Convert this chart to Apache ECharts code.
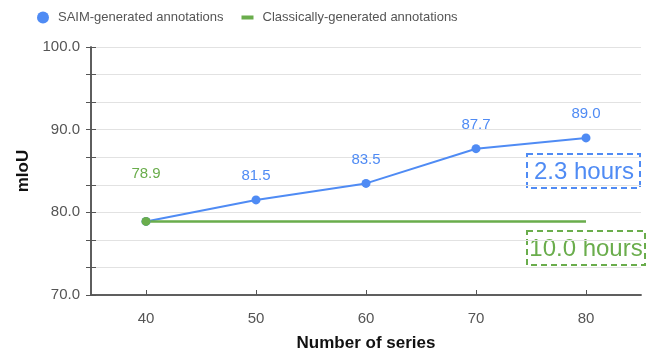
<!DOCTYPE html>
<html><head><meta charset="utf-8">
<script src="https://cdn.jsdelivr.net/npm/echarts@6/dist/echarts.min.js"></script>
<style>html,body{margin:0;padding:0;background:#fff}#c{width:657px;height:358px}</style>
</head><body><div id="c"></div>
<script>
var categories = ['40', '50', '60', '70', '80'];
var saimValues = [78.9, 81.5, 83.5, 87.7, 89.0];
var classicValues = [78.9, 78.9, 78.9, 78.9, 78.9];
var yTicks = [70, 80, 90, 100];
var blue = '#4f8bf4', green = '#6aad4c';
var FONT = '"Liberation Sans", Arial, sans-serif';
var chart = echarts.init(document.getElementById('c'));
var axisColor = '#555';
chart.setOption({
  animation: false,
  textStyle: {fontFamily: FONT},
  legend: {
    top: 6, left: 32, itemGap: 14, itemWidth: 20, itemHeight: 12,
    textStyle: {fontSize: 13, color: '#555', fontFamily: FONT},
    data: [
      {name: 'SAIM-generated annotations', icon: 'circle'},
      {name: 'Classically-generated annotations', icon: 'path://M0,0L0,0ZM20,12L20,12ZM4,4L16,4L16,8L4,8Z'}
    ]
  },
  grid: {left: 91, right: 16, top: 47, bottom: 63},
  xAxis: [{
    type: 'category', data: categories, boundaryGap: true,
    name: 'Number of series', nameLocation: 'middle', nameGap: 40,
    nameTextStyle: {fontSize: 17, fontWeight: 'bold', color: '#111', fontFamily: FONT},
    axisLine: {lineStyle: {color: axisColor, width: 1.5}},
    axisTick: {alignWithLabel: true, length: 5, lineStyle: {color: axisColor}},
    axisLabel: {fontSize: 15, color: '#555', margin: 16, fontFamily: FONT},
    splitLine: {show: false}
  }, {
    type: 'category', data: categories, boundaryGap: true, position: 'bottom', offset: 0,
    axisLine: {show: true, lineStyle: {color: axisColor, width: 1.5}},
    axisTick: {show: true, inside: true, alignWithLabel: true, length: 5, lineStyle: {color: axisColor}},
    axisLabel: {show: false}, splitLine: {show: false}
  }],
  yAxis: [{
    type: 'value', min: yTicks[0], max: yTicks[yTicks.length - 1], interval: 10,
    name: 'mIoU', nameLocation: 'middle', nameGap: 55,
    nameTextStyle: {fontSize: 17, fontWeight: 'bold', color: '#111', fontFamily: FONT},
    axisLine: {show: true, lineStyle: {color: axisColor, width: 1.5}},
    axisTick: {show: true, length: 5, lineStyle: {color: axisColor}},
    minorTick: {show: true, splitNumber: 3, length: 5, lineStyle: {color: axisColor}},
    splitLine: {show: true, lineStyle: {color: '#e2e2e2'}},
    minorSplitLine: {show: true, lineStyle: {color: '#e2e2e2'}},
    axisLabel: {fontSize: 15, color: '#555', margin: 11, fontFamily: FONT,
      formatter: function (v) { return v.toFixed(1); }}
  }, {
    type: 'value', min: yTicks[0], max: yTicks[yTicks.length - 1], interval: 10, position: 'left', offset: 0,
    axisLine: {show: true, lineStyle: {color: axisColor, width: 1.5}},
    axisTick: {show: true, inside: true, length: 5, lineStyle: {color: axisColor}},
    minorTick: {show: true, splitNumber: 3, length: 5, lineStyle: {color: axisColor}},
    splitLine: {show: false}, axisLabel: {show: false}
  }],
  series: [{
    name: 'SAIM-generated annotations', type: 'line', data: saimValues,
    symbol: 'circle', symbolSize: 9, color: blue,
    lineStyle: {width: 2, color: blue},
    label: {
      show: true, position: 'top', distance: 12, fontSize: 15, color: blue, fontFamily: FONT,
      formatter: function (p) { return p.dataIndex === 0 ? '' : p.value.toFixed(1); }
    }
  }, {
    name: 'Classically-generated annotations', type: 'line', data: classicValues,
    symbolSize: 9, color: green,
    symbol: function (v, p) { return p.dataIndex === 0 ? 'circle' : 'none'; },
    lineStyle: {width: 2.5, color: green},
    label: {
      show: true, position: 'top', distance: 36, fontSize: 15, color: green, fontFamily: FONT,
      formatter: function (p) { return p.dataIndex === 0 ? p.value.toFixed(1) : ''; }
    }
  }],
  graphic: [
    {type: 'rect', shape: {x: 527, y: 154, width: 113, height: 34},
     style: {fill: 'none', stroke: blue, lineWidth: 2, lineDash: [6, 4]}},
    {type: 'text', x: 584, y: 172,
     style: {text: '2.3 hours', fill: blue, fontSize: 24, fontFamily: FONT, align: 'center', verticalAlign: 'middle'}},
    {type: 'rect', shape: {x: 527, y: 231, width: 118, height: 34},
     style: {fill: 'none', stroke: green, lineWidth: 2, lineDash: [6, 4]}},
    {type: 'text', x: 586, y: 249,
     style: {text: '10.0 hours', fill: green, fontSize: 24, fontFamily: FONT, align: 'center', verticalAlign: 'middle'}}
  ]
});
</script></body></html>
